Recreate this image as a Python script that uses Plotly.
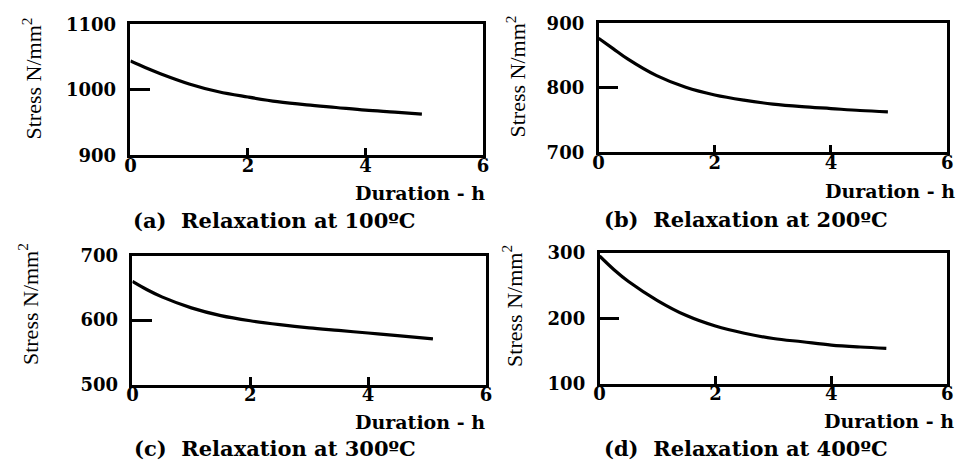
import plotly.graph_objects as go

W, H = 966, 472

# ---- data ----
t_a = [0, 0.25, 0.5, 1, 1.5, 2, 2.5, 3, 3.5, 4, 4.5, 4.96]
s_a = [1044, 1034, 1025, 1009, 997, 989, 982, 977, 973, 969, 966, 963]

t_b = [0, 0.25, 0.5, 1, 1.5, 2, 2.5, 3, 3.5, 4, 4.5, 4.98]
s_b = [877, 861, 845, 819, 801, 789, 781, 775, 771, 768, 765, 763]

t_c = [0, 0.25, 0.5, 1, 1.5, 2, 2.5, 3, 3.5, 4, 4.5, 5.1]
s_c = [660, 647, 636, 619, 607, 599, 593, 588, 584, 580, 576, 571]

t_d = [0, 0.25, 0.5, 1, 1.5, 2, 2.5, 3, 3.5, 4, 4.5, 4.95]
s_d = [295, 274, 256, 227, 204, 188, 177, 169, 164, 159, 156, 154]

x_ticks = [0, 2, 4, 6]
y_ticks_a = [900, 1000, 1100]
y_ticks_b = [700, 800, 900]
y_ticks_c = [500, 600, 700]
y_ticks_d = [100, 200, 300]

captions = ["(a)  Relaxation at 100ºC", "(b)  Relaxation at 200ºC",
            "(c)  Relaxation at 300ºC", "(d)  Relaxation at 400ºC"]
x_title = "Duration - h"
y_title = "Stress N/mm<sup>2</sup>"

# ---- layout geometry (pixels) ----
panels = [
    dict(l=126, r=483, t=14, b=151, ytx=26, yty=71, dr=487, dy=190, cx=272, cy=219),
    dict(l=600, r=953, t=13, b=148, ytx=516, yty=69, dr=963, dy=188, cx=749, cy=218),
    dict(l=128, r=486, t=256, b=391, ytx=23, yty=307, dr=487, dy=430, cx=272, cy=458),
    dict(l=601, r=953, t=253, b=390, ytx=513, yty=309, dr=962, dy=429, cx=749, cy=458),
]
series = [(t_a, s_a, y_ticks_a), (t_b, s_b, y_ticks_b),
          (t_c, s_c, y_ticks_c), (t_d, s_d, y_ticks_d)]

px = lambda x: x / W
py = lambda y: 1 - y / H

tick_font = dict(family="DejaVu Serif", size=18, color="black", weight="bold")
fig = go.Figure()
annotations = []
for i, (p, (tx, sy, yt)) in enumerate(zip(panels, series)):
    n = "" if i == 0 else str(i + 1)
    fig.add_trace(go.Scatter(x=tx, y=sy, mode="lines",
                             line=dict(color="black", width=3.2, shape="spline", smoothing=1.0),
                             xaxis="x" + n, yaxis="y" + n, showlegend=False, hoverinfo="skip"))
    fig.layout["xaxis" + n] = dict(
        domain=[px(p["l"]), px(p["r"])], anchor="y" + n, range=[x_ticks[0], x_ticks[-1]],
        tickvals=x_ticks, ticks="inside", ticklen=8, tickwidth=2.5, tickcolor="black",
        showline=True, linecolor="black", linewidth=2.5, mirror=True, showgrid=False,
        zeroline=False, tickfont=tick_font, ticklabelstandoff=-8)
    fig.layout["yaxis" + n] = dict(
        domain=[py(p["b"]), py(p["t"])], anchor="x" + n, range=[yt[0], yt[-1]],
        tickvals=yt, ticks="inside", ticklen=20, tickwidth=2.5, tickcolor="black",
        showline=True, linecolor="black", linewidth=2.5, mirror=True, showgrid=False,
        zeroline=False, tickfont=tick_font, ticklabelstandoff=8)
    annotations.append(dict(x=px(p["ytx"]), y=py(p["yty"]), xref="paper", yref="paper",
                            text=y_title, textangle=-90, showarrow=False,
                            font=dict(family="Liberation Serif", size=22, color="black"),
                            xanchor="center", yanchor="middle"))
    annotations.append(dict(x=px(p["dr"]), y=py(p["dy"]), xref="paper", yref="paper",
                            text=x_title, showarrow=False, xanchor="right", yanchor="middle",
                            font=dict(family="DejaVu Serif", size=19, color="black", weight="bold")))
    annotations.append(dict(x=px(p["cx"]), y=py(p["cy"]), xref="paper", yref="paper",
                            text=captions[i].replace("  ", "&nbsp; "), showarrow=False,
                            xanchor="center", yanchor="middle",
                            font=dict(family="DejaVu Serif", size=21, color="black", weight="bold")))

fig.update_layout(width=W, height=H, margin=dict(l=0, r=0, t=0, b=0),
                  paper_bgcolor="white", plot_bgcolor="white", annotations=annotations)
fig.write_html("out.html")
